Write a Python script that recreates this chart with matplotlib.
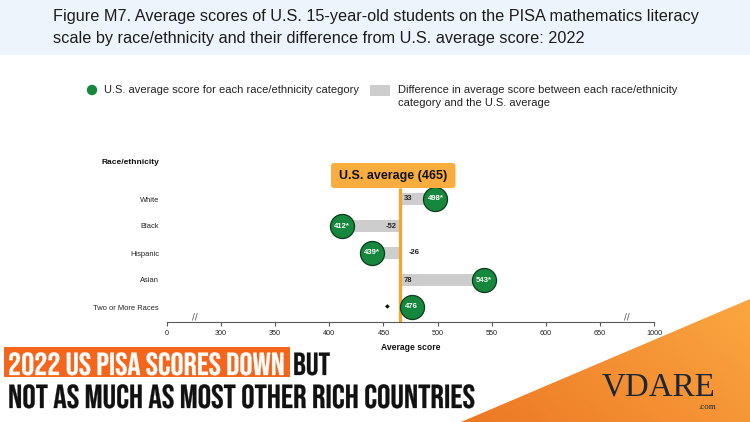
import matplotlib
matplotlib.use("Agg")
import matplotlib.pyplot as plt
import numpy as np
from matplotlib import patheffects as pe
from matplotlib.transforms import Affine2D
from matplotlib.patches import Rectangle, FancyBboxPatch, Polygon, Circle
from matplotlib import font_manager as fm

# ---------------- data ----------------
categories = ["White", "Black", "Hispanic", "Asian", "Two or More Races"]
scores = [498, 412, 439, 543, 476]
significant = [True, True, True, True, False]
diff_labels = ["33", "-52", "-26", "78", "\u25C6"]
us_average = 465
tick_positions = [250, 300, 350, 400, 450, 500, 550, 600, 650, 700]
tick_labels = ["0", "300", "350", "400", "450", "500", "550", "600", "650", "1000"]
break_positions = [276, 675]

title_lines = ["Figure M7. Average scores of U.S. 15-year-old students on the PISA mathematics literacy",
               "scale by race/ethnicity and their difference from U.S. average score: 2022"]
legend_score = "U.S. average score for each race/ethnicity category"
legend_diff = ["Difference in average score between each race/ethnicity",
               "category and the U.S. average"]
banner_hl = "2022 US PISA SCORES DOWN"
banner_but = "BUT"
banner_line2 = "NOT AS MUCH AS MOST OTHER RICH COUNTRIES"

# ---------------- styles ----------------
W, H = 750, 422
GREEN = "#15883d"
GREEN_EDGE = "#0d3b1c"
GRAY_BAR = "#cdcdcd"
ORANGE_LINE = "#f6a52b"
BADGE = "#f9ad3e"
SANS = ["Liberation Sans", "DejaVu Sans"]
plt.rcParams["font.family"] = SANS

names = {f.name for f in fm.fontManager.ttflist}
banner_font = "Liberation Sans"
for cand in ["Bebas Neue", "Oswald", "Roboto Condensed", "Liberation Sans Narrow", "DejaVu Sans Condensed"]:
    if cand in names:
        banner_font = cand
        break


class Stretch(pe.AbstractPathEffect):
    def __init__(self, sx, sy, x0, y0, lw=0.0):
        super().__init__((0, 0))
        self.sx, self.sy, self.x0, self.y0, self.lw = sx, sy, x0, y0, lw

    def draw_path(self, renderer, gc, tpath, affine, rgbFace=None):
        extra = Affine2D().translate(-self.x0, -self.y0).scale(self.sx, self.sy).translate(self.x0, self.y0)
        gc0 = renderer.new_gc()
        gc0.copy_properties(gc)
        gc0.set_linewidth(self.lw)
        if rgbFace is not None:
            gc0.set_foreground(rgbFace)
        renderer.draw_path(gc0, tpath, affine + extra, rgbFace)
        gc0.restore()


fig = plt.figure(figsize=(W / 100, H / 100), dpi=100)
fig.patch.set_facecolor("white")
renderer = fig.canvas.get_renderer()

# background layer (pixel coordinates)
bg = fig.add_axes([0, 0, 1, 1], zorder=0)
bg.set_xlim(0, W)
bg.set_ylim(H, 0)
bg.axis("off")
bg.add_patch(Rectangle((0, 0), W, 55, color="#eef4fb", lw=0))

tri = Polygon([(461, H), (W, 299), (W, H)], closed=True, facecolor="none", edgecolor="none")
bg.add_patch(tri)
gx = np.linspace(440, W, 200)
gy = np.linspace(290, H, 100)
GX, GY = np.meshgrid(gx, gy)
t = np.clip((GX - 461) / 289 * 0.65 + (H - GY) / 123 * 0.35, 0, 1)
c0 = np.array([0.925, 0.47, 0.14])
c1 = np.array([0.985, 0.655, 0.255])
img = c0[None, None, :] * (1 - t[..., None]) + c1[None, None, :] * t[..., None]
im = bg.imshow(img, extent=[440, W, H, 290], origin="upper", aspect="auto", interpolation="bilinear")
im.set_clip_path(tri)
bg.set_xlim(0, W)
bg.set_ylim(H, 0)

# ---------------- main chart ----------------
row_px = 27.0
ax_top_px, ax_bot_px = 150, 322
ax = fig.add_axes([167 / W, 1 - ax_bot_px / H, 487 / W, (ax_bot_px - ax_top_px) / H], zorder=2)
ax.patch.set_alpha(0)
n = len(categories)
y = np.arange(n)[::-1].astype(float)
y_lo = -(ax_bot_px - 307) / row_px
y_hi = (307 - ax_top_px) / row_px
ax.set_ylim(y_lo, y_hi)
ax.set_xlim(tick_positions[0], tick_positions[-1])

diffs = [s - us_average for s in scores]
ax.barh(y, diffs, left=us_average, height=0.44, color=GRAY_BAR, zorder=1)
line_top = (307 - 188) / row_px
ax.plot([us_average, us_average], [y_lo, line_top], color=ORANGE_LINE, lw=2.3,
        solid_capstyle="butt", zorder=2, clip_on=False)
ax.scatter(scores, y, s=300, c=GREEN, edgecolors=GREEN_EDGE, linewidths=0.9, zorder=3, clip_on=False)

for yi, s, sig in zip(y, scores, significant):
    ax.text(s, yi, f"{s}*" if sig else f"{s}", color="white", fontsize=5.6, fontweight="bold",
            ha="center", va="center", zorder=4)

for yi, d, lab in zip(y, diffs, diff_labels):
    if lab == "\u25C6":
        ax.annotate(lab, (us_average, yi), xytext=(-9, 0), textcoords="offset points",
                    ha="center", va="center", fontsize=4.5, color="#111", family="DejaVu Sans")
    elif d > 0:
        ax.annotate(lab, (us_average, yi), xytext=(3, 0), textcoords="offset points",
                    ha="left", va="center", fontsize=5.5, fontweight="bold", color="#222")
    elif abs(d) > 40:
        ax.annotate(lab, (us_average, yi), xytext=(-2.2, 0), textcoords="offset points",
                    ha="right", va="center", fontsize=5.5, fontweight="bold", color="#222")
    else:
        ax.annotate(lab, (us_average, yi), xytext=(6.5, 0), textcoords="offset points",
                    ha="left", va="center", fontsize=5.5, fontweight="bold", color="#222")

for sp in ["top", "right", "left"]:
    ax.spines[sp].set_visible(False)
ax.spines["bottom"].set_color("#5a5a5a")
ax.spines["bottom"].set_linewidth(0.8)
ax.set_xticks(tick_positions)
ax.set_xticklabels(tick_labels)
ax.tick_params(axis="x", direction="out", length=3, width=0.8, color="#5a5a5a",
               labelsize=5.2, labelcolor="#222", pad=3)
ax.set_yticks(y)
ax.set_yticklabels(categories)
ax.tick_params(axis="y", length=0, pad=5.8, labelsize=5.4, labelcolor="#222")

for bp in break_positions:
    ax.text(bp, y_lo, "//", fontsize=6, ha="center", va="bottom", color="#444",
            family="DejaVu Sans", clip_on=False)

# ---------------- foreground layer ----------------
fg = fig.add_axes([0, 0, 1, 1], zorder=3)
fg.set_xlim(0, W)
fg.set_ylim(H, 0)
fg.axis("off")
fg.patch.set_alpha(0)


def fit_font(txt, target):
    w = txt.get_window_extent(renderer).width
    txt.set_fontsize(txt.get_fontsize() * target / w)


def squeeze(txt, target, lw=0.0):
    w = txt.get_window_extent(renderer).width
    x0, y0 = txt.get_transform().transform(txt.get_position())
    txt.set_path_effects([Stretch(target / w, 1.0, x0, y0, lw)])


# title
t1 = fg.text(53, 17, title_lines[0], fontsize=11.5, color="#1c1c1c", va="center", ha="left")
fit_font(t1, 644)
fg.text(53, 39, title_lines[1], fontsize=t1.get_fontsize(), color="#1c1c1c", va="center", ha="left")

# legend
fg.add_patch(Circle((92, 90), 5.2, color=GREEN, lw=0))
l1 = fg.text(104, 90, legend_score, fontsize=7.6, color="#222", va="center", ha="left")
fit_font(l1, 253)
fg.add_patch(Rectangle((370, 84.5), 20, 11, color=GRAY_BAR, lw=0))
l2 = fg.text(398, 90, legend_diff[0], fontsize=l1.get_fontsize(), color="#222", va="center", ha="left")
fg.text(398, 103, legend_diff[1], fontsize=l1.get_fontsize(), color="#222", va="center", ha="left")

# chart labels
fg.text(159, 163, "Race/ethnicity", fontsize=6.0, fontweight="bold", color="#111", ha="right", va="center")
fg.text(410.5, 347, "Average score", fontsize=6.2, fontweight="bold", color="#111", ha="center", va="center")

# badge
fg.add_patch(FancyBboxPatch((331, 163), 124.5, 25, boxstyle="round,pad=0,rounding_size=3",
                            facecolor=BADGE, edgecolor="none"))
fg.text(393, 176, f"U.S. average ({us_average})", fontsize=9, fontweight="bold", color="#111",
        ha="center", va="center")

# banner
fg.add_patch(Rectangle((4, 347), 286, 29.5, color="#f4661b", lw=0))
b1 = fg.text(8, 375, banner_hl, fontsize=23, fontweight="bold", color="white",
             family=banner_font, ha="left", va="baseline")
squeeze(b1, 277, 0.2)
b2 = fg.text(293, 375, banner_but, fontsize=23, fontweight="bold", color="#111",
             family=banner_font, ha="left", va="baseline")
squeeze(b2, 37, 0.2)
b3 = fg.text(8, 408, banner_line2, fontsize=24, fontweight="bold", color="#111",
             family=banner_font, ha="left", va="baseline")
squeeze(b3, 468, 0.2)

# logo
v = fg.text(602, 395, "VDARE", fontsize=24, color="#1d2733", family=["Liberation Serif", "DejaVu Serif"],
            ha="left", va="baseline")
fit_font(v, 114)
fg.text(716, 403, ".com", fontsize=6.5, color="#1d2733", family=["Liberation Serif", "DejaVu Serif"],
        ha="right", va="top")

fig.savefig("out.png", dpi=100)
